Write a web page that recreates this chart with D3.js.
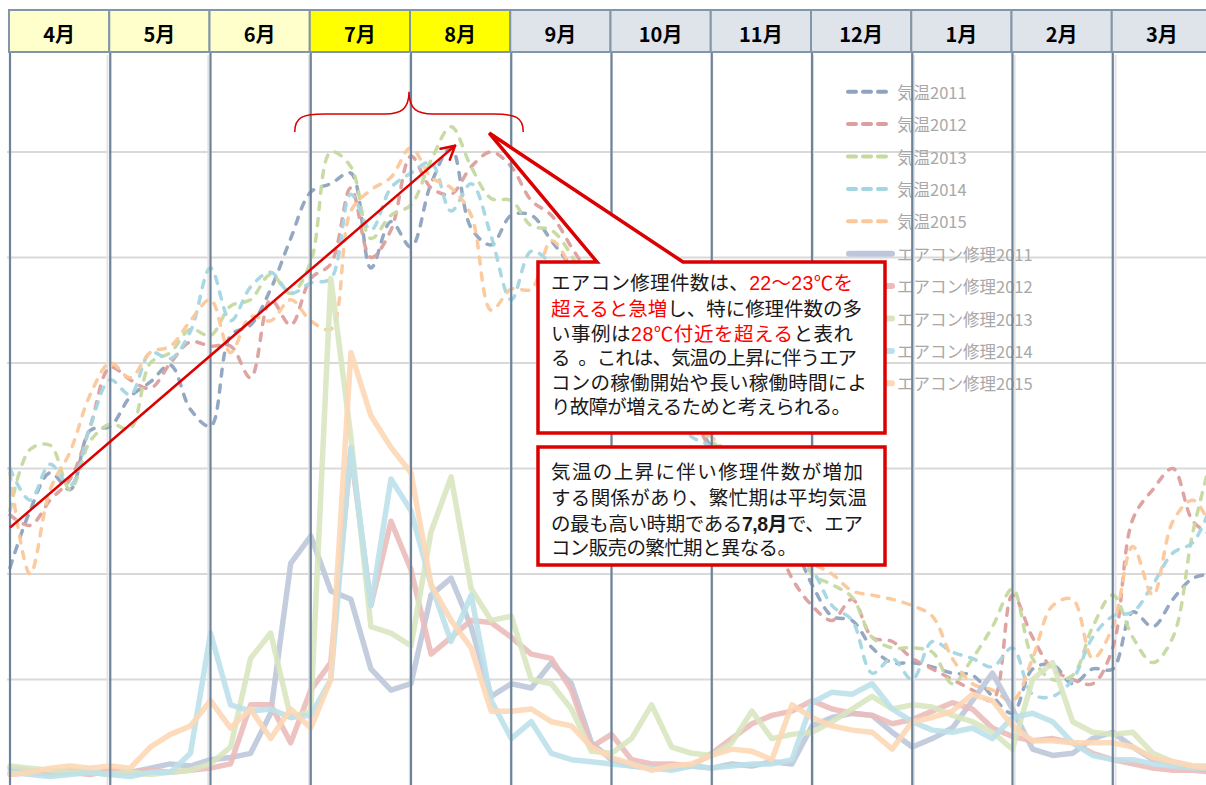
<!DOCTYPE html>
<html>
<head>
<meta charset="utf-8">
<script src="https://cdn.jsdelivr.net/npm/d3@7"></script>
<style>
  html, body { margin: 0; padding: 0; background: #fff; }
  svg { display: block; font-family: "Noto Sans CJK JP", "Noto Sans", sans-serif; }
  .note { font-family: "Liberation Sans", "Noto Sans CJK JP", sans-serif; }
</style>
</head>
<body>
<svg id="chart" width="1206" height="785"></svg>
<script>
// Fiscal-year months (April to March)
const months = ["4月", "5月", "6月", "7月", "8月", "9月", "10月", "11月", "12月", "1月", "2月", "3月"];
const peakMonths = ["7月", "8月"];
const warmMonths = ["4月", "5月", "6月", "7月", "8月"];

const years = [2011, 2012, 2013, 2014, 2015];
const tempLabels = ["気温2011", "気温2012", "気温2013", "気温2014", "気温2015"];
const repairLabels = ["エアコン修理2011", "エアコン修理2012", "エアコン修理2013", "エアコン修理2014", "エアコン修理2015"];

// Smoothed mean temperature (°C), 5 samples per month, April to March
const temp2011 = [10.3, 13.0, 14.8, 14.0, 16.8, 17.0, 18.4, 19.1, 19.9, 17.8, 17.0, 21.3, 21.8, 23.5, 25.9, 28.1, 28.5, 29.0, 24.5, 26.7, 25.5, 28.5, 30.2, 26.4, 25.6, 27.0, 27.0, 25.8, 24.5, 22.5, 21.0, 20.5, 19.0, 18.0, 17.5, 16.0, 15.0, 14.0, 12.5, 11.5, 9.5, 8.0, 7.8, 6.5, 5.8, 5.8, 5.6, 5.3, 5.2, 4.2, 3.4, 5.5, 5.7, 4.8, 5.5, 5.5, 8.2, 7.5, 8.8, 9.8, 10.0];
const temp2012 = [12.8, 12.3, 13.5, 14.5, 17.0, 19.8, 19.2, 18.8, 20.0, 21.0, 20.8, 20.8, 19.3, 23.0, 21.8, 24.0, 24.7, 28.3, 25.0, 26.3, 29.8, 28.3, 28.0, 29.3, 30.0, 29.3, 27.7, 27.0, 25.5, 24.0, 22.5, 21.0, 19.5, 18.5, 17.5, 15.8, 14.5, 13.0, 12.0, 9.8, 8.5, 7.8, 8.8, 7.0, 6.8, 6.0, 5.5, 5.0, 4.5, 4.0, 9.0, 7.0, 5.5, 5.0, 4.8, 6.5, 12.6, 14.0, 15.0, 12.5, 11.8];
const temp2013 = [13.0, 15.9, 16.1, 14.0, 16.3, 17.1, 16.9, 20.0, 20.5, 21.6, 21.3, 22.7, 23.0, 24.2, 23.3, 24.8, 30.0, 29.3, 25.9, 27.0, 27.5, 29.6, 31.2, 29.3, 27.8, 27.7, 26.5, 26.3, 25.1, 23.0, 21.5, 21.0, 19.5, 18.0, 17.5, 16.3, 15.5, 14.5, 13.0, 12.0, 10.0, 9.5, 8.9, 7.0, 6.5, 6.5, 6.3, 4.8, 6.0, 7.5, 9.3, 6.0, 5.0, 5.2, 7.5, 9.0, 7.0, 5.8, 7.0, 12.0, 15.8];
const temp2014 = [15.0, 13.5, 15.2, 14.2, 17.0, 19.2, 18.5, 20.5, 20.2, 21.5, 24.5, 22.0, 23.6, 24.3, 23.3, 23.8, 24.0, 28.0, 26.3, 28.3, 29.0, 29.5, 27.2, 28.5, 26.0, 23.0, 25.3, 24.7, 23.5, 22.0, 20.5, 19.5, 18.0, 17.5, 16.5, 16.0, 14.5, 13.5, 12.5, 11.0, 10.2, 8.5, 7.8, 5.3, 6.0, 5.0, 6.8, 6.3, 6.0, 5.6, 6.5, 4.3, 4.2, 5.0, 7.0, 8.0, 8.2, 9.5, 11.0, 11.5, 13.5];
const temp2015 = [14.8, 10.0, 14.0, 15.8, 18.5, 20.0, 19.3, 20.5, 20.8, 22.0, 23.0, 20.5, 22.2, 22.0, 23.0, 22.0, 21.6, 27.2, 28.2, 28.8, 30.2, 28.8, 28.3, 27.0, 22.5, 23.5, 23.5, 25.8, 24.5, 22.5, 21.0, 19.5, 18.5, 17.0, 17.5, 16.5, 15.5, 14.5, 13.5, 11.0, 10.5, 10.0, 9.2, 9.0, 8.8, 8.5, 8.0, 6.0, 4.8, 4.5, 4.0, 6.0, 8.5, 8.8, 6.0, 7.5, 11.3, 9.0, 12.5, 13.5, 12.0];

// Air-conditioner repair cases (count), same sampling
const repair2011 = [8, 7, 6, 7, 6, 5, 6, 8, 10, 9, 12, 13, 15, 34, 105, 118, 92, 88, 55, 45, 48, 90, 98, 75, 42, 48, 46, 58, 48, 20, 12, 9, 8, 8, 9, 8, 10, 9, 11, 10, 28, 32, 34, 33, 25, 18, 22, 27, 40, 53, 36, 17, 14, 15, 22, 25, 18, 12, 10, 8, 7];
const repair2012 = [5, 6, 5, 6, 5, 7, 6, 7, 6, 7, 8, 10, 38, 38, 20, 45, 58, 158, 85, 125, 102, 62, 70, 78, 77, 70, 62, 60, 45, 18, 24, 12, 10, 10, 9, 15, 22, 29, 33, 35, 40, 36, 34, 33, 29, 31, 35, 39, 36, 27, 23, 21, 22, 20, 15, 12, 10, 8, 7, 7, 6];
const repair2013 = [9, 8, 7, 6, 6, 5, 6, 5, 6, 7, 10, 18, 60, 72, 32, 35, 240, 165, 75, 72, 66, 120, 146, 93, 78, 80, 50, 48, 36, 16, 15, 22, 38, 18, 15, 14, 20, 35, 22, 24, 25, 30, 36, 42, 36, 38, 37, 33, 30, 25, 17, 50, 58, 30, 25, 24, 25, 15, 11, 9, 9];
const repair2014 = [6, 5, 4, 5, 6, 5, 4, 6, 6, 15, 72, 38, 35, 36, 32, 33, 50, 160, 85, 145, 130, 95, 68, 90, 40, 22, 30, 15, 12, 11, 10, 9, 8, 7, 9, 8, 9, 10, 10, 12, 39, 44, 43, 48, 36, 30, 26, 25, 27, 22, 32, 34, 30, 20, 14, 12, 12, 10, 9, 8, 8];
const repair2015 = [5, 6, 8, 9, 8, 9, 8, 18, 24, 28, 40, 27, 36, 22, 36, 27, 50, 205, 175, 160, 148, 95, 78, 65, 35, 35, 36, 30, 28, 18, 13, 10, 7, 9, 10, 14, 17, 16, 12, 38, 32, 28, 26, 25, 17, 30, 32, 35, 43, 40, 28, 21, 21, 20, 20, 20, 18, 13, 11, 9, 8];

const tempSeries = [temp2011, temp2012, temp2013, temp2014, temp2015];
const repairSeries = [repair2011, repair2012, repair2013, repair2014, repair2015];

const tempColors = ["#8ea3bf", "#dc9f9d", "#c6d99f", "#a3d6e3", "#fcc79a"];
const repairColors = ["#bcc8da", "#ebbcbb", "#d8e6c0", "#bce1ea", "#fdd7b6"];

// Callout texts
const note1 = [
  [{t: "エアコン修理件数は、"}, {t: "22～23℃を", red: true}],
  [{t: "超えると急増", red: true}, {t: "し、特に修理件数の多"}],
  [{t: "い事例は"}, {t: "28℃付近を超える", red: true}, {t: "と表れ"}],
  [{t: "る\u00a0\u00a0。これは、気温の上昇に伴うエア"}],
  [{t: "コンの稼働開始や長い稼働時間によ"}],
  [{t: "り故障が増えるためと考えられる。"}]
];
const note2 = [
  [{t: "気温の上昇に伴い修理件数が増加"}],
  [{t: "する関係があり、繁忙期は平均気温"}],
  [{t: "の最も高い時期である"}, {t: "7,8月", bold: true}, {t: "で、エア"}],
  [{t: "コン販売の繁忙期と異なる。"}]
];

const W = 1206, H = 785;
const svg = d3.select("#chart");
const RED = "#dc0000";

const x = d3.scaleLinear().domain([0, 60]).range([10, 1213]);
const yT = d3.scaleLinear().domain([0, 35]).range([785, 46.5]);
const yR = d3.scaleLinear().domain([0, 350]).range([785, 46.5]);
const monthX = m => x(m * 5);

svg.append("rect").attr("width", W).attr("height", H).attr("fill", "#fff");

// horizontal gridlines
svg.append("g").selectAll("line").data(d3.range(5, 35, 5)).join("line")
  .attr("x1", 7).attr("x2", W)
  .attr("y1", d => yT(d)).attr("y2", d => yT(d))
  .attr("stroke", "#d9d9d9").attr("stroke-width", 2);

// faint category gridlines
const xg = d3.scaleLinear().domain([1, 11]).range([107.5, 1115.5]);
svg.append("g").selectAll("line").data(d3.range(1, 12)).join("line")
  .attr("x1", d => xg(d)).attr("x2", d => xg(d))
  .attr("y1", 55).attr("y2", H)
  .attr("stroke", "#e3e3e3").attr("stroke-width", 2);

// legend
const legend = svg.append("g").attr("transform", "translate(846,0)");
const legY = k => 91.7 + 32.4 * k;
tempLabels.forEach((lab, k) => {
  legend.append("line").attr("x1", 2).attr("x2", 44).attr("y1", legY(k)).attr("y2", legY(k))
    .attr("stroke", tempColors[k]).attr("stroke-width", 4)
    .attr("stroke-dasharray", "8,7").attr("stroke-linecap", "round");
  legend.append("text").attr("x", 51).attr("y", legY(k)).attr("dominant-baseline", "central")
    .attr("font-size", 16.5).attr("fill", "#a8a8a8").text(lab);
});
repairLabels.forEach((lab, k) => {
  const yy = legY(k + 5);
  legend.append("line").attr("x1", 3).attr("x2", 46).attr("y1", yy).attr("y2", yy)
    .attr("stroke", repairColors[k]).attr("stroke-width", 6).attr("stroke-linecap", "round");
  legend.append("text").attr("x", 51).attr("y", yy).attr("dominant-baseline", "central")
    .attr("font-size", 16.5).attr("fill", "#a8a8a8").text(lab);
});

// temperature lines (dashed)
const tLine = d3.line().x((d, i) => x(i)).y(d => yT(d)).curve(d3.curveCatmullRom.alpha(0.5));
svg.append("g").selectAll("path").data(tempSeries).join("path")
  .attr("d", tLine).attr("fill", "none")
  .attr("stroke", (d, i) => tempColors[i]).attr("stroke-width", 3.5)
  .attr("stroke-dasharray", "7,9").attr("stroke-linecap", "round").attr("opacity", 0.95);

// repair lines (solid, wide)
const rLine = d3.line().x((d, i) => x(i)).y(d => yR(d)).curve(d3.curveLinear);
svg.append("g").selectAll("path").data(repairSeries).join("path")
  .attr("d", rLine).attr("fill", "none")
  .attr("stroke", (d, i) => repairColors[i]).attr("stroke-width", 5.5)
  .attr("stroke-linejoin", "round").attr("stroke-linecap", "round").attr("opacity", 0.9);

// month separators
svg.append("g").selectAll("line").data(d3.range(0, 12)).join("line")
  .attr("x1", d => monthX(d)).attr("x2", d => monthX(d))
  .attr("y1", 53).attr("y2", H)
  .attr("stroke", "#6d8399").attr("stroke-width", 2.2);

// month header
const head = svg.append("g");
months.forEach((m, i) => {
  const x0 = monthX(i) - 1, x1 = monthX(i + 1) - 1;
  const fill = peakMonths.includes(m) ? "#ffff00" : warmMonths.includes(m) ? "#ffffcc" : "#dfe3ea";
  head.append("rect").attr("x", x0).attr("y", 10).attr("width", x1 - x0).attr("height", 42)
    .attr("fill", fill).attr("stroke", "#8196a9").attr("stroke-width", 2);
  head.append("text").attr("x", (x0 + x1) / 2).attr("y", 33).attr("text-anchor", "middle")
    .attr("dominant-baseline", "central").attr("font-size", 20).attr("font-weight", "bold")
    .attr("fill", "#000").text(m);
});

// trend arrow
const a0 = [x(0), yT(12.2)], a1 = [x(22.2), yT(30.3)];
svg.append("line").attr("x1", a0[0]).attr("y1", a0[1]).attr("x2", a1[0]).attr("y2", a1[1])
  .attr("stroke", RED).attr("stroke-width", 2.5);
const ang = Math.atan2(a1[1] - a0[1], a1[0] - a0[0]);
[-0.5, 0.5].forEach(da => {
  svg.append("line").attr("x1", a1[0]).attr("y1", a1[1])
    .attr("x2", a1[0] - 15 * Math.cos(ang + da)).attr("y2", a1[1] - 15 * Math.sin(ang + da))
    .attr("stroke", RED).attr("stroke-width", 2.5).attr("stroke-linecap", "round");
});

// brace over July–August
const bl = monthX(3) - 16, bp = monthX(4) - 2, br = monthX(5) + 12;
const yEnd = yT(30.95), yMid = yT(31.8), yTop = yT(32.85);
svg.append("path")
  .attr("d", `M${bl},${yEnd} C${bl},${yMid + 3} ${bl + 8},${yMid} ${bl + 30},${yMid} L${bp - 24},${yMid}
    C${bp - 8},${yMid} ${bp},${yMid - 5} ${bp},${yTop} C${bp},${yMid - 5} ${bp + 8},${yMid} ${bp + 24},${yMid}
    L${br - 30},${yMid} C${br - 8},${yMid} ${br},${yMid + 3} ${br},${yEnd}`)
  .attr("fill", "none").attr("stroke", RED).attr("stroke-width", 1.5);

// callout boxes
const tip = [x(23.9), yT(30.9)];
const b1 = {x0: 538, y0: 262, x1: 885, y1: 433, s0: 597, s1: 683};
svg.append("path")
  .attr("d", `M${b1.x0},${b1.y0} L${b1.s0},${b1.y0} L${tip[0]},${tip[1]} L${b1.s1},${b1.y0} L${b1.x1},${b1.y0} L${b1.x1},${b1.y1} L${b1.x0},${b1.y1} Z`)
  .attr("fill", "#fff").attr("stroke", RED).attr("stroke-width", 3.5).attr("stroke-linejoin", "miter");
const b2 = {x0: 538, y0: 447, x1: 885, y1: 565};
svg.append("rect").attr("x", b2.x0).attr("y", b2.y0).attr("width", b2.x1 - b2.x0).attr("height", b2.y1 - b2.y0)
  .attr("fill", "#fff").attr("stroke", RED).attr("stroke-width", 3.5);

function writeLines(lines, x0, ys, widths) {
  lines.forEach((segs, i) => {
    const t = svg.append("text").attr("class", "note").attr("x", x0).attr("y", ys[i])
      .attr("dominant-baseline", "central").attr("font-size", 19.5).attr("fill", "#1a1a1a")
      .attr("textLength", widths[i]).attr("lengthAdjust", "spacing");
    segs.forEach(s => {
      t.append("tspan").attr("fill", s.red ? "#ff0000" : "#1a1a1a")
        .attr("font-weight", s.bold ? "bold" : "normal").text(s.t);
    });
  });
}
writeLines(note1, 551, [283, 309, 334, 358, 383, 407], [302, 311, 302, 306, 316, 300]);
writeLines(note2, 551, [472, 498, 524, 548], [312, 316, 312, 246]);
</script>
</body>
</html>
